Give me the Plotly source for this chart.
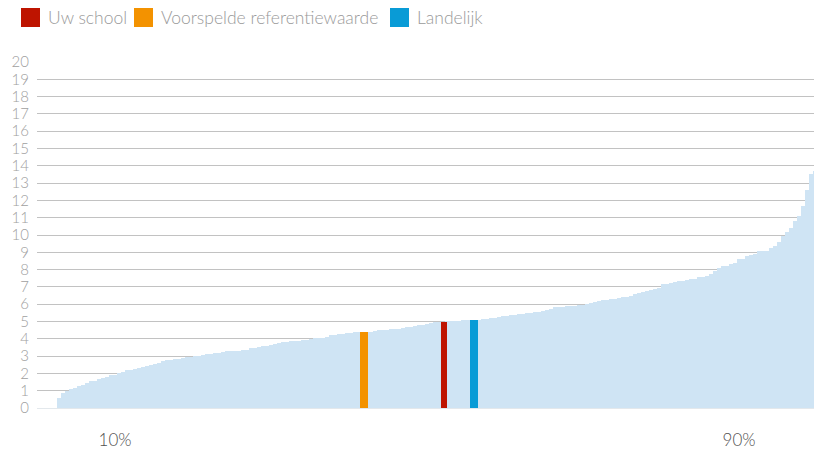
import plotly.graph_objs as go

# sorted scores of all schools (light blue background bars)
scores = [
    0, 0, 0, 0, 0, 0.55, 0.85, 1.0, 1.07, 1.18,
    1.3, 1.35, 1.47, 1.55, 1.57, 1.67, 1.72, 1.78, 1.88, 1.9,
    2.0, 2.1, 2.2, 2.2, 2.25, 2.32, 2.35, 2.45, 2.5, 2.55,
    2.6, 2.72, 2.78, 2.8, 2.83, 2.85, 2.88, 2.95, 2.95, 3.0,
    3.02, 3.06, 3.1, 3.14, 3.18, 3.2, 3.22, 3.28, 3.28, 3.3,
    3.31, 3.37, 3.37, 3.45, 3.48, 3.54, 3.57, 3.6, 3.66, 3.7,
    3.74, 3.8, 3.82, 3.87, 3.87, 3.9, 3.93, 3.93, 4.0, 4.05,
    4.05, 4.05, 4.12, 4.22, 4.22, 4.29, 4.29, 4.35, 4.35, 4.38,
    4.41, 4.41, 4.41, 4.42, 4.47, 4.49, 4.52, 4.53, 4.58, 4.58,
    4.58, 4.62, 4.66, 4.7, 4.72, 4.78, 4.81, 4.87, 4.9, 4.97,
    4.97, 5.0, 5.02, 5.04, 5.04, 5.04, 5.06, 5.1, 5.1, 5.1,
    5.1, 5.16, 5.16, 5.22, 5.22, 5.25, 5.29, 5.31, 5.35, 5.38,
    5.41, 5.45, 5.49, 5.5, 5.56, 5.56, 5.62, 5.65, 5.73, 5.81,
    5.81, 5.82, 5.87, 5.87, 5.9, 5.95, 5.98, 6.02, 6.06, 6.14,
    6.2, 6.25, 6.27, 6.31, 6.31, 6.36, 6.39, 6.42, 6.48, 6.58,
    6.63, 6.7, 6.77, 6.8, 6.87, 6.95, 7.16, 7.16, 7.2, 7.31,
    7.33, 7.35, 7.4, 7.45, 7.45, 7.58, 7.58, 7.65, 7.75, 7.93,
    8.12, 8.18, 8.21, 8.35, 8.4, 8.63, 8.63, 8.79, 8.85, 8.92,
    9.05, 9.08, 9.1, 9.23, 9.37, 9.6, 9.95, 10.15, 10.4, 10.8,
    11.1, 11.65, 12.6, 13.5, 13.7,
]
ranks = list(range(len(scores)))

# highlighted bars
series_names = ["Uw school", "Voorspelde referentiewaarde", "Landelijk"]
series_pos = [101.25, 81.25, 108.75]
series_vals = [5.0, 4.41, 5.1]
series_colors = ["#BE1400", "#F39200", "#099BD6"]

pct_ticks = [19, 175]
pct_labels = ["10%", "90%"]

# plot area in pixels
L, T, W, H = 37, 62, 777, 346


def px_x(px):
    return (px - L) / W


def px_y(py):
    return (T + H - py) / H


fig = go.Figure()

fig.add_trace(go.Bar(
    x=ranks, y=scores, width=1,
    marker=dict(color="#CFE4F4", line=dict(width=0)),
    hoverinfo="skip", showlegend=False,
))

for name, pos, val, col in zip(series_names, series_pos, series_vals, series_colors):
    fig.add_trace(go.Bar(
        x=[pos], y=[val], name=name,
        width=1.5 if name == "Uw school" else 2,
        marker=dict(color=col, line=dict(width=0)),
        showlegend=False,
    ))

# legend: big coloured squares + grey labels
legend_sq = [21, 134, 390]
shapes = []
annotations = []
for name, col, x0 in zip(series_names, series_colors, legend_sq):
    shapes.append(dict(
        type="rect", xref="paper", yref="paper",
        x0=px_x(x0), x1=px_x(x0 + 19), y0=px_y(27), y1=px_y(8),
        fillcolor=col, line=dict(width=0),
    ))
    annotations.append(dict(
        text=name, xref="paper", yref="paper",
        x=px_x(x0 + 25), y=px_y(17.5), xanchor="left", yanchor="middle",
        showarrow=False,
        font=dict(family="Lato", size=17.5, weight=300, color="#9a9a9a"),
    ))

fig.update_layout(
    width=814, height=449,
    margin=dict(l=L, r=814 - L - W, t=T, b=449 - T - H),
    plot_bgcolor="white", paper_bgcolor="white",
    barmode="overlay", bargap=0,
    showlegend=False,
    shapes=shapes, annotations=annotations,
    font=dict(family="Lato"),
)
fig.update_xaxes(
    range=[-0.5, 193.75], automargin=False,
    showgrid=False, zeroline=False, showline=False,
    tickvals=pct_ticks, ticktext=pct_labels,
    ticks="outside", ticklen=17, tickcolor="rgba(0,0,0,0)",
    tickfont=dict(family="Lato", size=17, weight=300, color="#505050"),
)
fig.update_yaxes(
    range=[0, 20], dtick=1, automargin=False,
    showgrid=True, gridcolor="#c2c2c2", gridwidth=1,
    zeroline=True, zerolinecolor="#e3e8ec", zerolinewidth=1, showline=False,
    ticks="outside", ticklen=4, tickcolor="rgba(0,0,0,0)",
    tickfont=dict(family="Lato", size=15, weight=300, color="#a0a0a0"),
)

# drop the default page margin so the 814x449 figure fills the window exactly
fig.write_html("out.html", config={"displayModeBar": False},
               post_script="document.body.style.margin = '0';")
